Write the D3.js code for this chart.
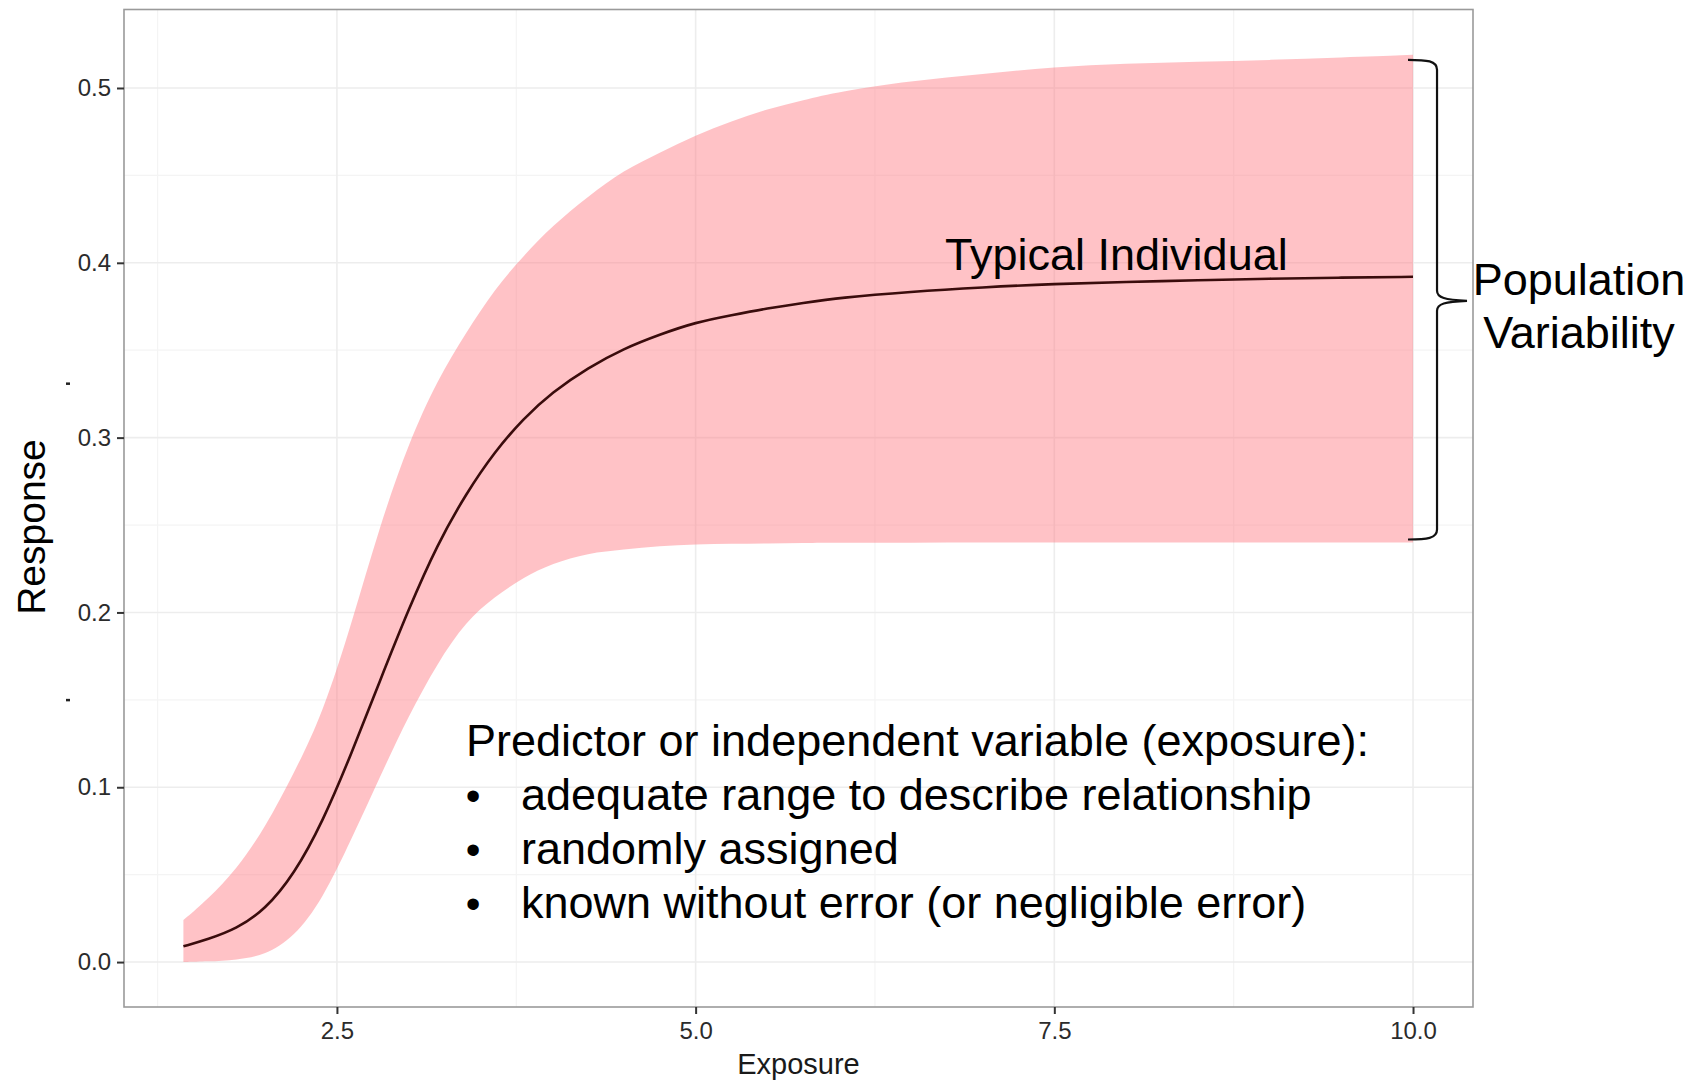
<!DOCTYPE html>
<html>
<head>
<meta charset="utf-8">
<script src="https://cdn.jsdelivr.net/npm/d3@7"></script>
<style>
    body { margin: 0; background: #fff; }
    text { font-family: "Liberation Sans", Arial, Helvetica, sans-serif; }
</style>
</head>
<body>
<svg id="chart"></svg>
<script>
// ------- data -------
var exposure = [1.43, 1.6, 1.8, 2.0, 2.2, 2.4, 2.6, 2.8, 3.0, 3.2, 3.4, 3.6, 3.8, 4.0,
    4.25, 4.5, 4.75, 5.0, 5.25, 5.5, 5.75, 6.0, 6.5, 7.0, 7.5, 8.0, 8.5, 9.0, 9.5, 10.0];

var typical = [0.009, 0.013, 0.019, 0.030, 0.050, 0.080, 0.119, 0.161, 0.202, 0.239, 0.268,
    0.292, 0.311, 0.326, 0.340, 0.351, 0.359, 0.366, 0.370, 0.374, 0.377, 0.380, 0.3835,
    0.386, 0.388, 0.389, 0.390, 0.391, 0.3915, 0.392];

var upper = [0.024, 0.036, 0.053, 0.077, 0.108, 0.142, 0.193, 0.250, 0.297, 0.333, 0.360,
    0.385, 0.404, 0.421, 0.438, 0.453, 0.463, 0.473, 0.481, 0.488, 0.493, 0.498, 0.504,
    0.508, 0.512, 0.514, 0.515, 0.516, 0.5175, 0.519];

var lower = [0.000, 0.0003, 0.0012, 0.004, 0.014, 0.036, 0.070, 0.106, 0.141, 0.171, 0.195,
    0.209, 0.220, 0.228, 0.234, 0.236, 0.238, 0.239, 0.2393, 0.2395, 0.2397, 0.2398, 0.2399,
    0.240, 0.240, 0.240, 0.240, 0.240, 0.240, 0.240];

var xTicks = [2.5, 5.0, 7.5, 10.0];
var yTicks = [0.0, 0.1, 0.2, 0.3, 0.4, 0.5];
var xMinor = [1.25, 3.75, 6.25, 8.75];
var yMinor = [0.05, 0.15, 0.25, 0.35, 0.45];

var bullets = [
    "adequate range to describe relationship",
    "randomly assigned",
    "known without error (or negligible error)"
];

// ------- setup -------
var width = 1696;
var height = 1082;
var panel = { left: 124, right: 1473, top: 9.5, bottom: 1007 };

var svg = d3.select("#chart")
    .attr("width", width)
    .attr("height", height);

var x = d3.scaleLinear().domain([1.016, 10.418]).range([panel.left, panel.right]);
var y = d3.scaleLinear().domain([-0.0257, 0.5449]).range([panel.bottom, panel.top]);

var rows = exposure.map(function (e, i) {
    return { x: e, mid: typical[i], lo: lower[i], hi: upper[i] };
});

// ------- grid -------
var grid = svg.append("g");
grid.selectAll(".xminor").data(xMinor).enter().append("line")
    .attr("x1", d => x(d)).attr("x2", d => x(d))
    .attr("y1", panel.top).attr("y2", panel.bottom)
    .attr("stroke", "#f4f4f4").attr("stroke-width", 1.2);
grid.selectAll(".yminor").data(yMinor).enter().append("line")
    .attr("y1", d => y(d)).attr("y2", d => y(d))
    .attr("x1", panel.left).attr("x2", panel.right)
    .attr("stroke", "#f4f4f4").attr("stroke-width", 1.2);
grid.selectAll(".xmajor").data(xTicks).enter().append("line")
    .attr("x1", d => x(d)).attr("x2", d => x(d))
    .attr("y1", panel.top).attr("y2", panel.bottom)
    .attr("stroke", "#ededed").attr("stroke-width", 1.6);
grid.selectAll(".ymajor").data(yTicks).enter().append("line")
    .attr("y1", d => y(d)).attr("y2", d => y(d))
    .attr("x1", panel.left).attr("x2", panel.right)
    .attr("stroke", "#ededed").attr("stroke-width", 1.6);

// ------- ribbon + line -------
var area = d3.area()
    .x(d => x(d.x))
    .y0(d => y(d.lo))
    .y1(d => y(d.hi))
    .curve(d3.curveBasis);

svg.append("path")
    .datum(rows)
    .attr("d", area)
    .attr("fill", "rgb(255,120,128)")
    .attr("fill-opacity", 0.45);

var line = d3.line()
    .x(d => x(d.x))
    .y(d => y(d.mid))
    .curve(d3.curveBasis);

svg.append("path")
    .datum(rows)
    .attr("d", line)
    .attr("fill", "none")
    .attr("stroke", "#3a0c0c")
    .attr("stroke-width", 2.6);

// ------- panel border + axes -------
svg.append("rect")
    .attr("x", panel.left).attr("y", panel.top)
    .attr("width", panel.right - panel.left)
    .attr("height", panel.bottom - panel.top)
    .attr("fill", "none")
    .attr("stroke", "#9a9a9a")
    .attr("stroke-width", 1.6);

var xAxis = svg.append("g")
    .attr("transform", "translate(0," + panel.bottom + ")")
    .call(d3.axisBottom(x).tickValues(xTicks).tickFormat(d3.format(".1f")).tickSize(7).tickPadding(8));
var yAxis = svg.append("g")
    .attr("transform", "translate(" + panel.left + ",0)")
    .call(d3.axisLeft(y).tickValues(yTicks).tickFormat(d3.format(".1f")).tickSize(7).tickPadding(6));

[xAxis, yAxis].forEach(function (a) {
    a.select(".domain").remove();
    a.selectAll(".tick line").attr("stroke", "#333").attr("stroke-width", 2);
    a.selectAll(".tick text")
        .attr("fill", "#2b2b2b")
        .style("font-size", "24px");
});

// stray dashes left of the y labels in the source image
svg.selectAll(".stray").data([0.331, 0.150]).enter().append("rect")
    .attr("x", 66).attr("y", d => y(d) - 1)
    .attr("width", 4).attr("height", 2.5)
    .attr("fill", "#222");

// ------- axis titles -------
svg.append("text")
    .attr("x", (panel.left + panel.right) / 2)
    .attr("y", 1074)
    .attr("text-anchor", "middle")
    .style("font-size", "29px")
    .attr("fill", "#1a1a1a")
    .text("Exposure");

svg.append("text")
    .attr("transform", "translate(45,527)rotate(-90)")
    .attr("text-anchor", "middle")
    .style("font-size", "39px")
    .attr("fill", "#000")
    .text("Response");

// ------- annotations -------
svg.append("text")
    .attr("x", 945).attr("y", 270)
    .style("font-size", "45px")
    .text("Typical Individual");

svg.append("text")
    .attr("x", 466).attr("y", 756)
    .style("font-size", "45px")
    .text("Predictor or independent variable (exposure):");

var bl = svg.append("g").selectAll("g").data(bullets).enter().append("g")
    .attr("transform", (d, i) => "translate(0," + (810 + i * 54) + ")");
bl.append("text").attr("x", 473).attr("text-anchor", "middle")
    .style("font-size", "42px").text("\u2022");
bl.append("text").attr("x", 521)
    .style("font-size", "45px").text(d => d);

var pop = svg.append("text")
    .attr("text-anchor", "middle")
    .style("font-size", "45px");
pop.append("tspan").attr("x", 1579).attr("y", 295).text("Population");
pop.append("tspan").attr("x", 1579).attr("y", 348).text("Variability");

// ------- curly bracket spanning the ribbon at x = 10 -------
var bx = x(10) + 24;
var bTop = y(upper[upper.length - 1]) + 5;
var bBot = y(lower[lower.length - 1]) - 3;
var bMid = y(typical[typical.length - 1]) + 24;
var p = d3.path();
p.moveTo(bx - 29, bTop);
p.bezierCurveTo(bx - 10, bTop, bx, bTop + 1, bx, bTop + 10);
p.lineTo(bx, bMid - 10);
p.bezierCurveTo(bx, bMid - 3, bx + 8, bMid - 1, bx + 30, bMid);
p.moveTo(bx + 30, bMid);
p.bezierCurveTo(bx + 8, bMid + 1, bx, bMid + 3, bx, bMid + 10);
p.lineTo(bx, bBot - 10);
p.bezierCurveTo(bx, bBot - 1, bx - 10, bBot, bx - 29, bBot);
svg.append("path")
    .attr("d", p.toString())
    .attr("fill", "none")
    .attr("stroke", "#111")
    .attr("stroke-width", 2.2);
</script>
</body>
</html>
